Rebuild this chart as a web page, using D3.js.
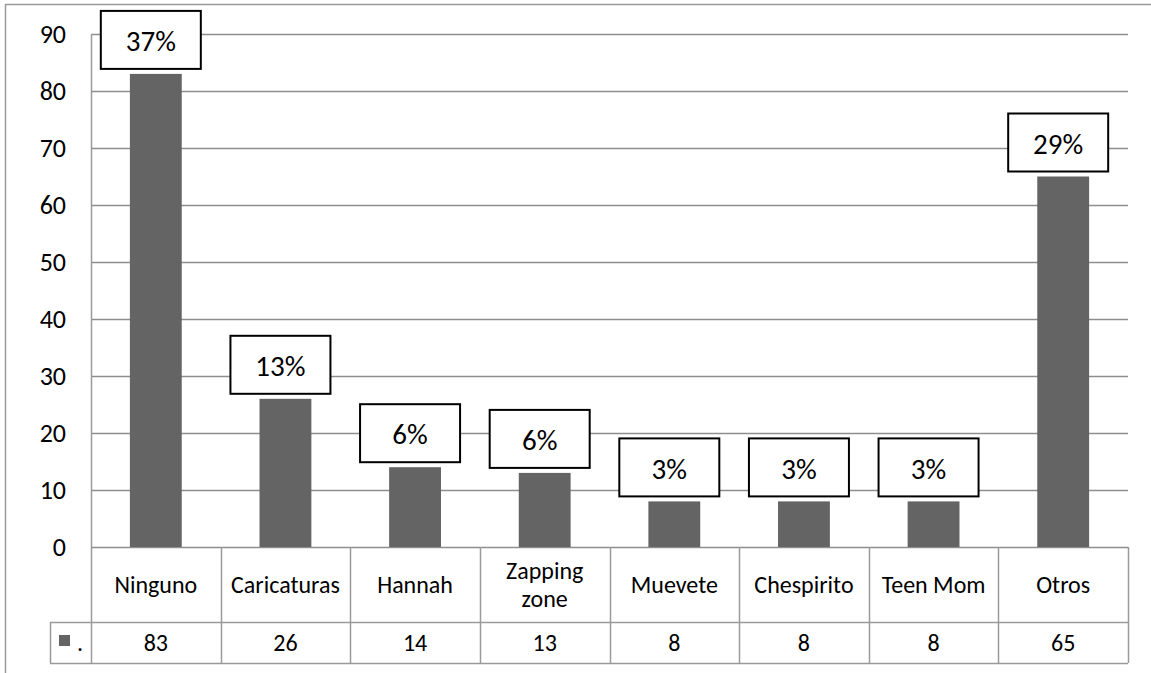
<!DOCTYPE html>
<html>
<head>
<meta charset="utf-8">
<script src="https://cdn.jsdelivr.net/npm/d3@7"></script>
<style>
  body { margin: 0; background: #fff; }
  svg { display: block; }
  text { font-family: Carlito, Calibri, Lato, sans-serif; fill: #000; }
</style>
</head>
<body>
<div class="chartsWrapper"></div>
<script>
// values
var categories = ['Ninguno', 'Caricaturas', 'Hannah', 'Zapping zone', 'Muevete', 'Chespirito', 'Teen Mom', 'Otros']
var counts = [83, 26, 14, 13, 8, 8, 8, 65]
var percents = ['37%', '13%', '6%', '6%', '3%', '3%', '3%', '29%']
var yTicks = [0, 10, 20, 30, 40, 50, 60, 70, 80, 90]
var seriesName = '.'

var width = 1151, height = 673
var margin = {left: 91, right: 23, top: 34}
var zeroY = 547, rowMid = 622, rowBottom = 663, legendLeft = 50

var svg = d3.select('.chartsWrapper')
            .append('svg')
            .attr('width', width)
            .attr('height', height)

var x = d3.scaleBand()
          .domain(categories)
          .range([margin.left, width - margin.right])
          .paddingInner(0)

var y = d3.scaleLinear()
          .domain([0, 90])
          .range([zeroY, margin.top])

var grey = '#8e8e8e'

// outer frame (top + left only, picture is cropped)
svg.append('path')
   .attr('d', 'M5.5,' + height + 'V4.5H' + width)
   .attr('fill', 'none')
   .attr('stroke', '#9a9a9a')
   .attr('stroke-width', 1.5)

// gridlines
svg.selectAll('.grid')
   .data(yTicks)
   .enter()
   .append('line')
   .attr('class', 'grid')
   .attr('x1', margin.left)
   .attr('x2', width - margin.right)
   .attr('y1', function(d) { return Math.round(y(d)) + 0.5 })
   .attr('y2', function(d) { return Math.round(y(d)) + 0.5 })
   .attr('stroke', grey)
   .attr('stroke-width', 1.5)

// y axis labels
var yAxis = d3.axisLeft(y).tickValues(yTicks).tickSize(0).tickPadding(25)
var gy = svg.append('g')
            .attr('transform', 'translate(' + margin.left + ',0)')
            .call(yAxis)
gy.select('.domain').remove()
gy.selectAll('text')
  .style('font-size', '26px')
  .style('font-family', 'Carlito, Calibri, Lato, sans-serif')
  .attr('fill', '#000')

// bars
var barW = x.bandwidth() * 0.4
svg.selectAll('.bar')
   .data(counts)
   .enter()
   .append('rect')
   .attr('class', 'bar')
   .attr('x', function(d, i) { return x(categories[i]) + (x.bandwidth() - barW) / 2 })
   .attr('y', function(d) { return y(d) })
   .attr('width', barW)
   .attr('height', function(d) { return y(0) - y(d) })
   .attr('fill', '#646464')

// percentage label boxes
var boxW = 100, boxH = 58
var labels = svg.selectAll('.lab')
                .data(percents)
                .enter()
                .append('g')
                .attr('class', 'lab')
                .attr('transform', function(d, i) {
                    var cx = x(categories[i]) + x.bandwidth() / 2 - 5
                    return 'translate(' + (cx - boxW / 2) + ',' + (y(counts[i]) - 5 - boxH) + ')'
                })
labels.append('rect')
      .attr('width', boxW)
      .attr('height', boxH)
      .attr('fill', '#fff')
      .attr('stroke', '#000')
      .attr('stroke-width', 2)
labels.append('text')
      .attr('x', boxW / 2)
      .attr('y', boxH / 2 + 1)
      .attr('text-anchor', 'middle')
      .attr('dy', '0.35em')
      .style('font-size', '29px')
      .text(function(d) { return d })

// data table
var tableLine = '#9a9a9a'
var bounds = categories.map(function(c) { return x(c) }).concat([width - margin.right])

svg.selectAll('.vline')
   .data(bounds)
   .enter()
   .append('line')
   .attr('class', 'vline')
   .attr('x1', function(d) { return Math.round(d) + 0.5 })
   .attr('x2', function(d) { return Math.round(d) + 0.5 })
   .attr('y1', function(d, i) { return i === 0 ? margin.top : zeroY })
   .attr('y2', rowBottom)
   .attr('stroke', tableLine)
   .attr('stroke-width', 1.5)

svg.append('line')
   .attr('x1', legendLeft).attr('x2', width - margin.right)
   .attr('y1', rowMid + 0.5).attr('y2', rowMid + 0.5)
   .attr('stroke', tableLine).attr('stroke-width', 1.5)
svg.append('line')
   .attr('x1', legendLeft).attr('x2', width - margin.right)
   .attr('y1', rowBottom + 0.5).attr('y2', rowBottom + 0.5)
   .attr('stroke', tableLine).attr('stroke-width', 1.5)
svg.append('line')
   .attr('x1', legendLeft + 0.5).attr('x2', legendLeft + 0.5)
   .attr('y1', rowMid).attr('y2', rowBottom)
   .attr('stroke', tableLine).attr('stroke-width', 1.5)

// category names
svg.selectAll('.cat')
   .data(categories)
   .enter()
   .append('text')
   .attr('class', 'cat')
   .attr('text-anchor', 'middle')
   .attr('x', function(d) { return x(d) + x.bandwidth() / 2 })
   .attr('y', (zeroY + rowMid) / 2)
   .style('font-size', '24px')
   .each(function(d) {
       var words = d === 'Zapping zone' ? ['Zapping', 'zone'] : [d]
       var t = d3.select(this)
       words.forEach(function(w, k) {
           t.append('tspan')
            .attr('x', x(d) + x.bandwidth() / 2)
            .attr('dy', k === 0 ? (words.length > 1 ? '-0.22em' : '0.35em') : '1.14em')
            .text(w)
       })
   })

// values row
svg.selectAll('.val')
   .data(counts)
   .enter()
   .append('text')
   .attr('class', 'val')
   .attr('text-anchor', 'middle')
   .attr('x', function(d, i) { return x(categories[i]) + x.bandwidth() / 2 })
   .attr('y', (rowMid + rowBottom) / 2)
   .attr('dy', '0.35em')
   .style('font-size', '24px')
   .text(function(d) { return d })

// legend key
svg.append('rect')
   .attr('x', 59).attr('y', 635)
   .attr('width', 11).attr('height', 11)
   .attr('fill', '#646464')
svg.append('text')
   .attr('x', 77).attr('y', (rowMid + rowBottom) / 2)
   .attr('dy', '0.35em')
   .style('font-size', '24px')
   .text(seriesName)
</script>
</body>
</html>
